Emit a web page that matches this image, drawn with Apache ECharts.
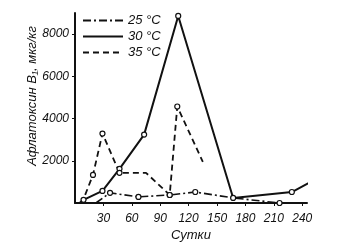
<!DOCTYPE html>
<html><head><meta charset="utf-8">
<script src="https://cdn.jsdelivr.net/npm/echarts@6/dist/echarts.min.js"></script>
<style>html,body{margin:0;padding:0;background:#fff}#c{width:355px;height:243px}</style>
</head><body><div id="c"></div>
<script>
var seriesNames = ['25 °C', '30 °C', '35 °C'];
var t25 = [[22, 0], [37, 480], [67, 290], [100, 380], [127, 520], [167, 240], [216, 0]];
var sym25 = [false, true, true, true, true, false, true];
var t30 = [[5, 0], [9, 150], [29, 570], [47, 1620], [73, 3240], [109, 8860], [167, 240], [229, 520], [255, 1140]];
var sym30 = [false, true, true, true, true, true, true, true, false];
var t35 = [[5, 0], [9, 190], [19, 1330], [29, 3290], [47, 1430], [75, 1430], [100, 380], [108, 4570], [135, 1950]];
var sym35 = [false, false, true, true, true, false, true, true, false];
var xTicks = [30, 60, 90, 120, 150, 180, 210, 240];
var yTicks = [2000, 4000, 6000, 8000];

function pts(d, s) {
  return d.map(function (p, i) { return { value: p, symbolSize: s[i] ? 5 : 0 }; });
}
var font = 'Liberation Sans';
var chart = echarts.init(document.getElementById('c'), null, { renderer: 'canvas' });
function mk(name, d, s, type, w) {
  return {
    name: name, type: 'line', data: pts(d, s), symbol: 'circle', clip: false,
    itemStyle: { color: '#fff', borderColor: '#111', borderWidth: 1.2 },
    lineStyle: { color: '#111', width: w, type: type },
    animation: false
  };
}
chart.setOption({
  animation: false,
  grid: { left: 75, top: 13, right: 48, bottom: 40, outerBoundsMode: 'none', containLabel: false },
  legend: {
    left: 82, top: 14, orient: 'vertical', itemWidth: 40, itemHeight: 12, itemGap: 3, padding: 0,
    data: seriesNames.map(function (n) { return { name: n, itemStyle: { opacity: 0 } }; }),
    textStyle: { fontFamily: font, fontStyle: 'italic', fontSize: 13, lineHeight: 13, color: '#111' }
  },
  xAxis: {
    type: 'value', min: 0, max: 245, interval: 30,
    name: 'Сутки', nameLocation: 'middle', nameGap: 26, nameMoveOverlap: false,
    nameTextStyle: { fontFamily: font, fontStyle: 'italic', fontSize: 13, color: '#111' },
    axisLine: { lineStyle: { color: '#111', width: 2 } },
    axisTick: { length: 3, lineStyle: { color: '#111' } },
    splitLine: { show: false },
    axisLabel: {
      fontFamily: font, fontStyle: 'italic', fontSize: 12, color: '#111', margin: 10,
      showMinLabel: false, showMaxLabel: false,
      formatter: function (v) { return xTicks.indexOf(v) >= 0 ? String(v) : ''; }
    }
  },
  yAxis: {
    type: 'value', min: 0, max: 9000, interval: 2000,
    name: 'Афлатоксин B₁, мкг/кг', nameLocation: 'middle', nameGap: 36, nameRotate: 90, nameMoveOverlap: false,
    nameTextStyle: { fontFamily: font, fontStyle: 'italic', fontSize: 13, color: '#111', padding: [0, 0, 0, 24] },
    axisLine: { show: true, lineStyle: { color: '#111', width: 2 } },
    axisTick: { show: true, length: 3, lineStyle: { color: '#111' } },
    splitLine: { show: false },
    axisLabel: {
      fontFamily: font, fontStyle: 'italic', fontSize: 12, color: '#111', margin: 6,
      showMinLabel: false, showMaxLabel: false,
      formatter: function (v) { return yTicks.indexOf(v) >= 0 ? String(v) : ''; }
    }
  },
  series: [
    mk(seriesNames[0], t25, sym25, [8, 3, 2, 3], 1.6),
    mk(seriesNames[1], t30, sym30, 'solid', 2),
    mk(seriesNames[2], t35, sym35, [6, 4], 1.8)
  ]
});
</script></body></html>
